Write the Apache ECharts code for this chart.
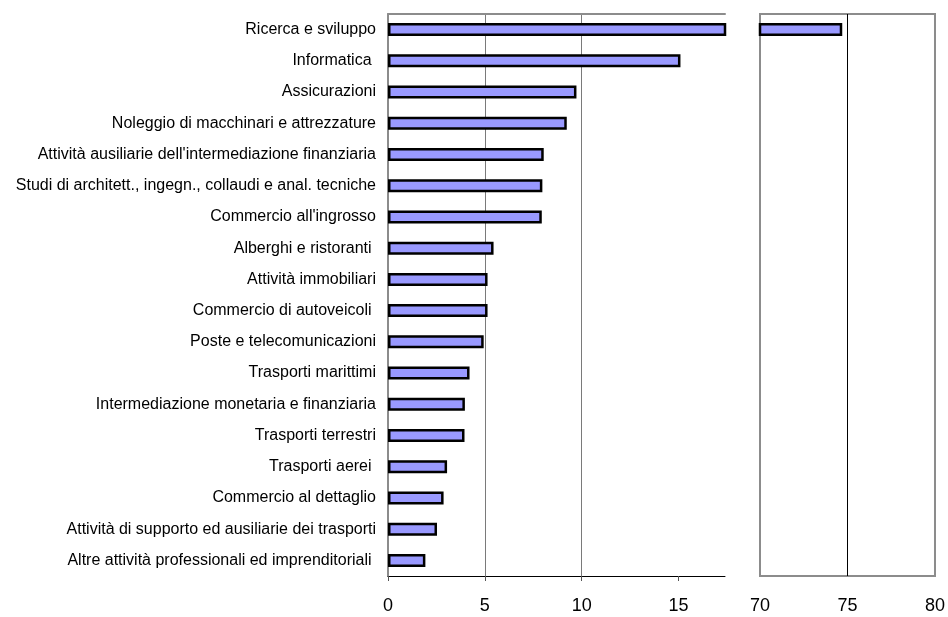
<!DOCTYPE html>
<html>
<head>
<meta charset="utf-8">
<script src="https://cdn.jsdelivr.net/npm/echarts@6/dist/echarts.min.js"></script>
<style>
html, body { margin: 0; padding: 0; background: #fff; }
#chart { width: 948px; height: 617px; }
</style>
</head>
<body>
<div id="chart"></div>
<script>
// settori, dal primo (in alto) all'ultimo
var categories = [
    "Ricerca e sviluppo",
    "Informatica ",
    "Assicurazioni",
    "Noleggio di macchinari e attrezzature",
    "Attività ausiliarie dell'intermediazione finanziaria",
    "Studi di architett., ingegn., collaudi e anal. tecniche",
    "Commercio all'ingrosso",
    "Alberghi e ristoranti ",
    "Attività immobiliari",
    "Commercio di autoveicoli ",
    "Poste e telecomunicazioni",
    "Trasporti marittimi",
    "Intermediazione monetaria e finanziaria",
    "Trasporti terrestri",
    "Trasporti aerei ",
    "Commercio al dettaglio",
    "Attività di supporto ed ausiliarie dei trasporti",
    "Altre attività professionali ed imprenditoriali "
];
var values = [74.7, 15.1, 9.73, 9.23, 8.04, 7.97, 7.94, 5.45, 5.14, 5.14, 4.94, 4.21, 3.97, 3.95, 3.05, 2.87, 2.53, 1.93];
var leftTicks = [0, 5, 10, 15];
var rightTicks = [70, 75, 80];

var barColor = "#9999ff";
var gray = "#8c8c8c";
var font = "Liberation Sans, Arial, sans-serif";

var rightValues = values.map(function (v) {
    return v >= 70 ? v : "-";
});

var chart = echarts.init(document.getElementById("chart"));
var option = {
    animation: false,
    backgroundColor: "#fff",
    grid: [
        { left: 388, top: 14, width: 337, height: 562 },
        {
            left: 760, top: 14, width: 175, height: 562,
            show: true, borderColor: gray, borderWidth: 2
        }
    ],
    xAxis: [
        {
            type: "value",
            gridIndex: 0,
            min: 0,
            max: 17.4,
            interval: 5,
            axisLine: { show: true, lineStyle: { color: "#000", width: 1 } },
            axisTick: { show: true, length: 5, lineStyle: { color: "#555" }, customValues: leftTicks },
            axisLabel: {
                customValues: leftTicks,
                color: "#000", fontSize: 18, fontFamily: font, margin: 21
            },
            splitLine: {
                show: true, showMinLine: false, showMaxLine: false,
                lineStyle: { color: "#7a7a7a", width: 1 }
            }
        },
        {
            // bordo superiore del pannello sinistro
            type: "value",
            gridIndex: 0,
            position: "top",
            min: 0,
            max: 17.4,
            axisLine: { show: true, lineStyle: { color: gray, width: 2 } },
            axisTick: { show: false },
            axisLabel: { show: false },
            splitLine: { show: false }
        },
        {
            type: "value",
            gridIndex: 1,
            min: 70,
            max: 80,
            interval: 5,
            axisLine: { show: false },
            axisTick: { show: false },
            axisLabel: {
                customValues: rightTicks,
                color: "#000", fontSize: 18, fontFamily: font, margin: 21
            },
            splitLine: {
                show: true, showMinLine: false, showMaxLine: false,
                lineStyle: { color: "#000", width: 1 }
            }
        }
    ],
    yAxis: [
        {
            type: "category",
            gridIndex: 0,
            inverse: true,
            data: categories,
            axisLine: { show: true, lineStyle: { color: gray, width: 2 } },
            axisTick: { show: false },
            axisLabel: { color: "#000", fontSize: 16, fontFamily: font, margin: 12 }
        },
        {
            type: "category",
            gridIndex: 1,
            inverse: true,
            data: categories,
            axisLine: { show: false },
            axisTick: { show: false },
            axisLabel: { show: false }
        }
    ],
    series: [
        {
            type: "bar",
            xAxisIndex: 0,
            yAxisIndex: 0,
            data: values,
            barWidth: 13,
            clip: true,
            itemStyle: { color: barColor, borderColor: "#000", borderWidth: 2.5 }
        },
        {
            type: "bar",
            xAxisIndex: 2,
            yAxisIndex: 1,
            data: rightValues,
            barWidth: 13,
            clip: true,
            itemStyle: { color: barColor, borderColor: "#000", borderWidth: 2.5 }
        }
    ]
};
chart.setOption(option);
</script>
</body>
</html>
